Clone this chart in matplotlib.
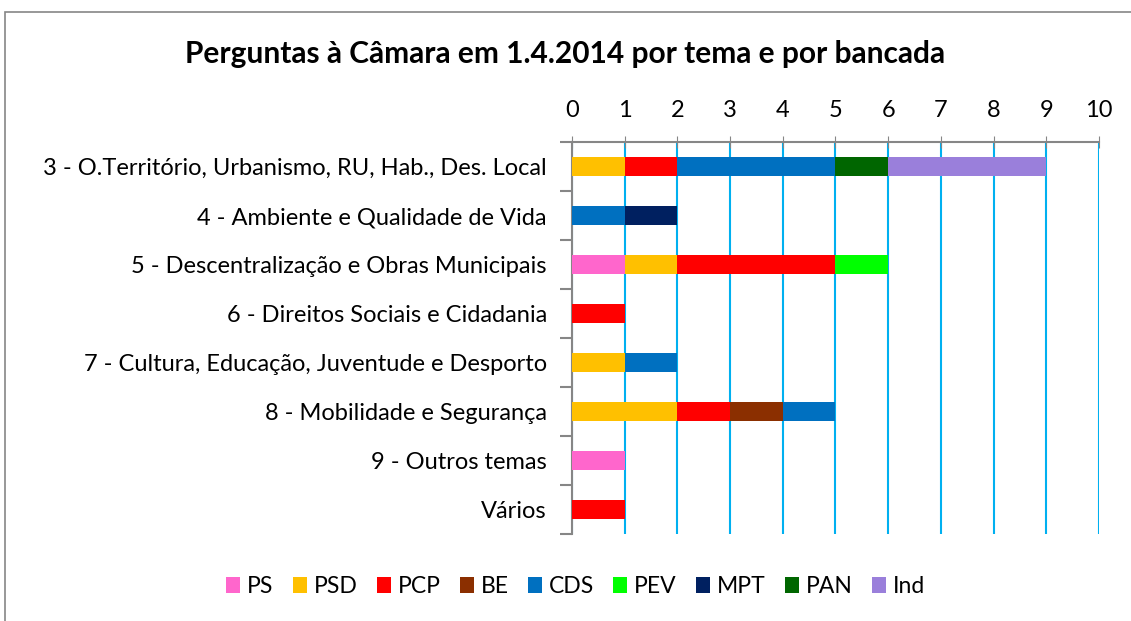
import matplotlib.pyplot as plt
import numpy as np

plt.rcParams['font.family'] = ['Lato', 'DejaVu Sans']

temas = [
    '3 - O.Território, Urbanismo, RU, Hab., Des. Local',
    '4 - Ambiente e Qualidade de Vida',
    '5 - Descentralização e Obras Municipais',
    '6 - Direitos Sociais e Cidadania',
    '7 - Cultura, Educação, Juventude e Desporto',
    '8 - Mobilidade e Segurança',
    '9 - Outros temas',
    'Vários',
]
bancadas = ['PS', 'PSD', 'PCP', 'BE', 'CDS', 'PEV', 'MPT', 'PAN', 'Ind']
cores = ['#FF66CC', '#FFC000', '#FF0000', '#8B2F00', '#0070C0',
         '#00FF00', '#002060', '#006600', '#9A7FDB']

ps = [0, 0, 1, 0, 0, 0, 1, 0]
psd = [1, 0, 1, 0, 1, 2, 0, 0]
pcp = [1, 0, 3, 1, 0, 1, 0, 1]
be = [0, 0, 0, 0, 0, 1, 0, 0]
cds = [3, 1, 0, 0, 1, 1, 0, 0]
pev = [0, 0, 1, 0, 0, 0, 0, 0]
mpt = [0, 1, 0, 0, 0, 0, 0, 0]
pan = [1, 0, 0, 0, 0, 0, 0, 0]
ind = [3, 0, 0, 0, 0, 0, 0, 0]
series = [ps, psd, pcp, be, cds, pev, mpt, pan, ind]

fig = plt.figure(figsize=(11.31, 6.21), dpi=100)
ax = fig.add_axes([0.5057, 0.14, 0.4660, 0.631])

y = np.arange(len(temas))
left = np.zeros(len(temas))
for nome, vals, cor in zip(bancadas, series, cores):
    vals = np.array(vals, dtype=float)
    ax.barh(y, vals, left=left, height=0.4, color=cor, label=nome, zorder=3)
    left += vals

ax.set_xlim(0, 10)
ax.set_ylim(len(temas) - 0.5, -0.5)
ax.set_xticks(range(11))
ax.xaxis.tick_top()
ax.tick_params(axis='x', length=9, color='#868686', labelsize=17, pad=11, direction='inout')
ax.set_yticks(y)
ax.set_yticklabels(temas, fontsize=17)
ax.set_yticks(np.arange(len(temas) + 1) - 0.5, minor=True)
ax.tick_params(axis='y', which='major', length=0, pad=18)
ax.tick_params(axis='y', which='minor', length=9, color='#868686', width=1.5)
ax.grid(axis='x', color='#00B0F0', linewidth=1.5, zorder=0)

for s in ['right', 'bottom']:
    ax.spines[s].set_visible(False)
for s in ['top', 'left']:
    ax.spines[s].set_color('#868686')
    ax.spines[s].set_linewidth(1.5)

fig.suptitle('Perguntas à Câmara em 1.4.2014 por tema e por bancada',
             fontsize=21.5, fontweight='bold', y=0.935)

fig.legend(loc='center', bbox_to_anchor=(0.509, 0.055), ncol=9, frameon=False,
           fontsize=16.5, handlelength=0.6, handleheight=0.7, handletextpad=0.3,
           columnspacing=0.85)

border = plt.Rectangle((0.004, -0.05), 1.2, 1.03, transform=fig.transFigure,
                       fill=False, edgecolor='#868686', linewidth=1.2)
fig.patches.append(border)

fig.savefig('out.png', dpi=100)
